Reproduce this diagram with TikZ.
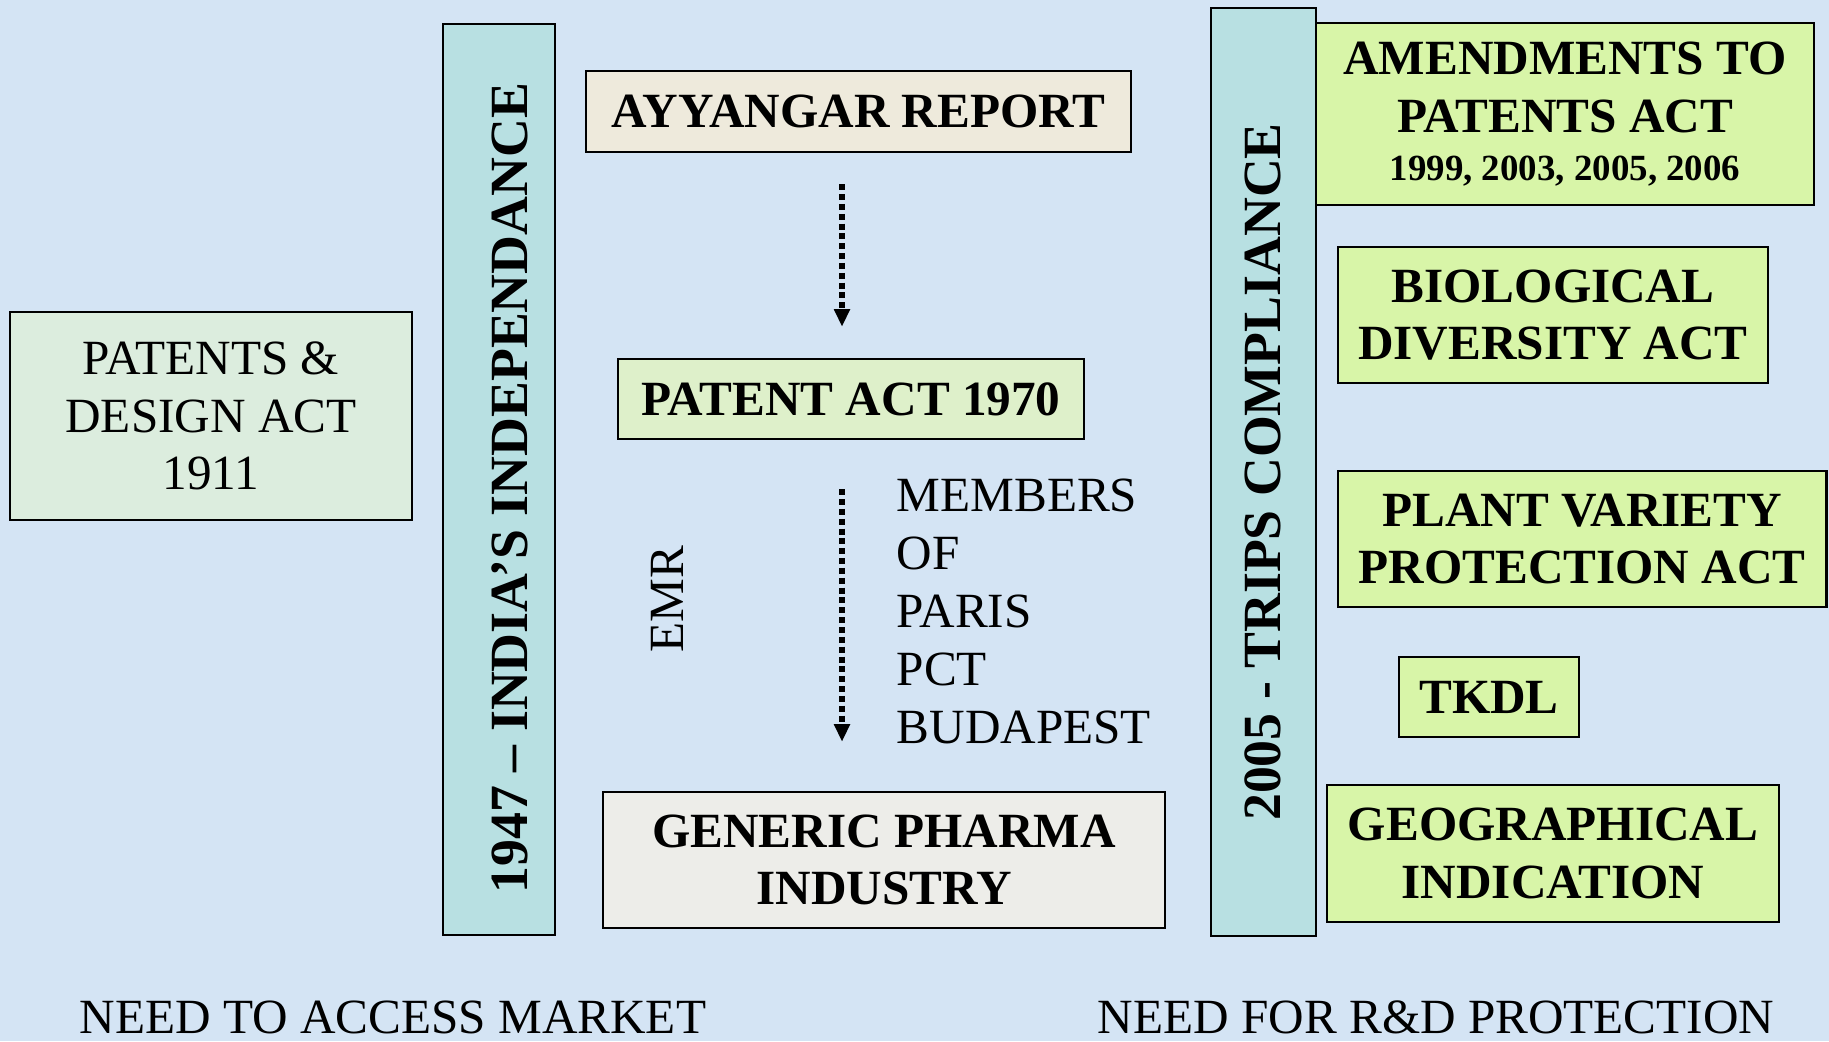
\documentclass[tikz,border=0pt]{standalone}
\usepackage{fontspec}
\setmainfont{Liberation Serif}
\usetikzlibrary{arrows.meta,positioning}
\definecolor{bgblue}{RGB}{212,228,244}
\definecolor{barteal}{RGB}{184,224,226}
\definecolor{actgreen}{RGB}{216,245,168}
\definecolor{paleg}{RGB}{222,240,202}
\definecolor{oldgreen}{RGB}{220,237,222}
\definecolor{beige}{RGB}{238,234,220}
\definecolor{pgrey}{RGB}{237,237,233}
\begin{document}
\begin{tikzpicture}[x=0.1mm,y=-0.1mm,
	box/.style={draw,line width=0.7pt,inner sep=0pt,align=center,font=\fontsize{14}{16.4}\selectfont},
	bold box/.style={box,font=\fontsize{14}{16.3}\selectfont\bfseries},
	act node/.style={bold box,fill=actgreen},
	bar/.style={draw,line width=0.7pt,fill=barteal,inner sep=0pt},
	bar text/.style={rotate=90,inner sep=0pt,font=\fontsize{15.3}{18}\selectfont\bfseries},
	plain text/.style={inner sep=0pt,align=left,font=\fontsize{14}{16.5}\selectfont},
	flow/.style={line width=1.6pt,dash pattern=on 1.7pt off 1.1pt,-{Triangle[width=4.3pt,length=5pt]}}]
		\useasboundingbox (0,0) rectangle (1829,1041);
		\fill[bgblue] (0,0) rectangle (1829,1041);
		% left side
		\node[box,fill=oldgreen,minimum width=40.2mm,minimum height=20.8mm] (old) at (211,416) {PATENTS \&\\DESIGN ACT\\1911};
		\node[bar,minimum width=11.2mm,minimum height=91.1mm] (indbar) at (499,479.5) {};
		\node[bar text] (indtext) at (510,488) {1947 – INDIA’S INDEPENDANCE};
		% middle column
		\node[bold box,fill=beige,minimum width=54.5mm,minimum height=8.1mm] (ayy) at (858.5,111.5) {AYYANGAR REPORT};
		\node[bold box,fill=paleg,minimum width=46.6mm,minimum height=8mm] (pat) at (851,399) {PATENT ACT 1970};
		\node[bold box,fill=pgrey,minimum width=56.2mm,minimum height=13.6mm] (gen) at (884,860) {GENERIC PHARMA\\INDUSTRY};
		\node[plain text,rotate=90] (emr) at (667,599) {EMR};
		\node[plain text,anchor=north west] (mem) at (896,478) {MEMBERS\\OF\\PARIS\\PCT\\BUDAPEST};
		\draw[flow,shorten <=3.1mm,shorten >=3.1mm] ([xshift=-1.65mm]ayy.south) -- ([xshift=-1.65mm]ayy.south |- pat.north);
		\draw[flow,shorten <=4.9mm,shorten >=4.9mm] ([xshift=-0.9mm]pat.south) -- ([xshift=-0.9mm]pat.south |- gen.north);
		% right side
		\node[bar,minimum width=10.5mm,minimum height=92.8mm] (tripsbar) at (1263.5,472) {};
		\node[bar text] (tripstext) at (1263,472) {2005 - TRIPS COMPLIANCE};
		\node[act node,minimum width=49.8mm,minimum height=18.2mm] (amend) at (1565,114) {AMENDMENTS TO\\PATENTS ACT\\[-2.6pt]{\fontsize{10.5}{13}\selectfont 1999, 2003, 2005, 2006}};
		\node[act node,minimum width=43mm,minimum height=13.65mm] (bio) at (1553,315) {BIOLOGICAL\\DIVERSITY ACT};
		\node[act node,minimum width=48.85mm,minimum height=13.65mm] (plant) at (1582,539) {PLANT VARIETY\\PROTECTION ACT};
		\node[act node,minimum width=18mm,minimum height=8mm] (tkdl) at (1489,697) {TKDL};
		\node[act node,minimum width=45.2mm,minimum height=13.7mm] (geo) at (1553,853.5) {GEOGRAPHICAL\\INDICATION};
		% bottom captions
		\node[plain text,anchor=base west] (market) at (79,1033) {NEED TO ACCESS MARKET};
		\node[plain text,anchor=base west] (rnd) at (1097,1033) {NEED FOR R\&D PROTECTION};
\end{tikzpicture}
\end{document}
